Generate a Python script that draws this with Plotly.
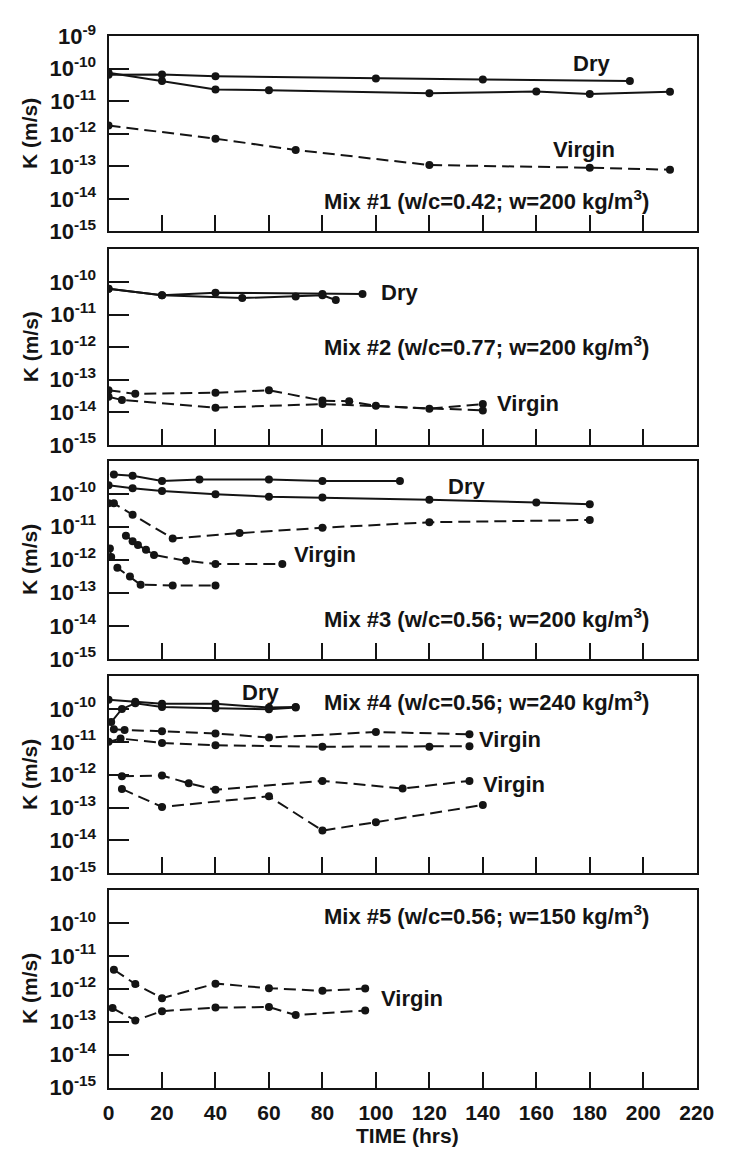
import plotly.graph_objects as go

# ---------------- data: hydraulic conductivity K (m/s) vs. time (hrs) ----------------
# Mix #1 (w/c=0.42; w=200 kg/m3)
m1_dry_a_t = [0, 20, 40, 100, 140, 195]
m1_dry_a_k = [6.5e-11, 6.6e-11, 5.9e-11, 5.0e-11, 4.7e-11, 4.2e-11]
m1_dry_b_t = [0, 20, 40, 60, 120, 160, 180, 210]
m1_dry_b_k = [7.5e-11, 4.2e-11, 2.3e-11, 2.2e-11, 1.75e-11, 2.0e-11, 1.66e-11, 1.95e-11]
m1_vir_t = [0, 40, 70, 120, 180, 210]
m1_vir_k = [1.8e-12, 7.1e-13, 3.2e-13, 1.1e-13, 9.1e-14, 7.9e-14]

# Mix #2 (w/c=0.77; w=200 kg/m3)
m2_dry_a_t = [0, 20, 40, 80, 95]
m2_dry_a_k = [6.2e-11, 3.9e-11, 4.7e-11, 4.3e-11, 4.3e-11]
m2_dry_b_t = [0, 20, 50, 70, 80, 85]
m2_dry_b_k = [6.2e-11, 3.9e-11, 3.2e-11, 3.6e-11, 3.9e-11, 2.8e-11]
m2_vir_a_t = [0, 10, 40, 60, 80, 90, 100, 120, 140]
m2_vir_a_k = [4.8e-14, 3.7e-14, 4.0e-14, 4.8e-14, 2.3e-14, 2.2e-14, 1.6e-14, 1.3e-14, 1.8e-14]
m2_vir_b_t = [0, 5, 40, 80, 140]
m2_vir_b_k = [3.0e-14, 2.4e-14, 1.4e-14, 1.8e-14, 1.15e-14]

# Mix #3 (w/c=0.56; w=200 kg/m3)
m3_dry_a_t = [2, 9, 20, 34, 60, 80, 109]
m3_dry_a_k = [3.8e-10, 3.5e-10, 2.4e-10, 2.7e-10, 2.7e-10, 2.4e-10, 2.4e-10]
m3_dry_b_t = [0, 9, 20, 40, 60, 80, 120, 160, 180]
m3_dry_b_k = [1.8e-10, 1.45e-10, 1.2e-10, 9.6e-11, 8.1e-11, 7.6e-11, 6.5e-11, 5.4e-11, 4.8e-11]
m3_vir_a_t = [0, 2, 9, 24, 49, 80, 120, 180]
m3_vir_a_k = [5.1e-11, 5.1e-11, 2.3e-11, 4.4e-12, 6.4e-12, 9.3e-12, 1.36e-11, 1.6e-11]
m3_vir_b_t = [6.5, 9, 11, 14, 17, 29, 40, 65]
m3_vir_b_k = [5.3e-12, 3.6e-12, 2.8e-12, 2.0e-12, 1.4e-12, 9.3e-13, 7.4e-13, 7.4e-13]
m3_vir_c_t = [0.5, 1, 3.3, 8, 12, 24, 40]
m3_vir_c_k = [2.2e-12, 1.2e-12, 5.7e-13, 3.1e-13, 1.75e-13, 1.66e-13, 1.66e-13]

# Mix #4 (w/c=0.56; w=240 kg/m3)
m4_dry_a_t = [0, 10, 20, 40, 60, 70]
m4_dry_a_k = [1.9e-10, 1.65e-10, 1.45e-10, 1.45e-10, 1.1e-10, 1.15e-10]
m4_dry_b_t = [1, 5, 10, 20, 40, 60, 70]
m4_dry_b_k = [4.0e-11, 1.0e-10, 1.5e-10, 1.15e-10, 1.05e-10, 9.8e-11, 1.1e-10]
m4_vir_a_t = [2, 6, 20, 40, 60, 100, 135]
m4_vir_a_k = [2.4e-11, 2.3e-11, 2.1e-11, 1.8e-11, 1.35e-11, 2.0e-11, 1.7e-11]
m4_vir_b_t = [0, 4.5, 20, 40, 80, 120, 135]
m4_vir_b_k = [1.0e-11, 1.26e-11, 9.3e-12, 7.9e-12, 7.1e-12, 7.1e-12, 7.4e-12]
m4_vir_c_t = [5, 20, 30, 40, 80, 110, 135]
m4_vir_c_k = [9.0e-13, 9.5e-13, 5.5e-13, 3.5e-13, 6.5e-13, 3.8e-13, 6.5e-13]
m4_vir_d_t = [5, 20, 60, 80, 100, 140]
m4_vir_d_k = [3.7e-13, 1.05e-13, 2.2e-13, 2.0e-14, 3.6e-14, 1.2e-13]

# Mix #5 (w/c=0.56; w=150 kg/m3)
m5_vir_a_t = [2, 10, 20, 40, 60, 80, 96]
m5_vir_a_k = [3.8e-12, 1.4e-12, 5.2e-13, 1.44e-12, 1.05e-12, 8.7e-13, 1.02e-12]
m5_vir_b_t = [1.5, 10, 20, 40, 60, 70, 96]
m5_vir_b_k = [2.6e-13, 1.1e-13, 2.1e-13, 2.7e-13, 2.8e-13, 1.6e-13, 2.2e-13]

mix_titles = [
    "Mix #1 (w/c=0.42; w=200 kg/m<sup>3</sup>)",
    "Mix #2 (w/c=0.77; w=200 kg/m<sup>3</sup>)",
    "Mix #3 (w/c=0.56; w=200 kg/m<sup>3</sup>)",
    "Mix #4 (w/c=0.56; w=240 kg/m<sup>3</sup>)",
    "Mix #5 (w/c=0.56; w=150 kg/m<sup>3</sup>)",
]

time_ticks = list(range(0, 221, 20))
k_exponents = [-9, -10, -11, -12, -13, -14, -15]

# (series list per panel): (t, k, dashed?)
panels = [
    [(m1_dry_a_t, m1_dry_a_k, False), (m1_dry_b_t, m1_dry_b_k, False), (m1_vir_t, m1_vir_k, True)],
    [(m2_dry_a_t, m2_dry_a_k, False), (m2_dry_b_t, m2_dry_b_k, False),
     (m2_vir_a_t, m2_vir_a_k, True), (m2_vir_b_t, m2_vir_b_k, True)],
    [(m3_dry_a_t, m3_dry_a_k, False), (m3_dry_b_t, m3_dry_b_k, False),
     (m3_vir_a_t, m3_vir_a_k, True), (m3_vir_b_t, m3_vir_b_k, True), (m3_vir_c_t, m3_vir_c_k, True)],
    [(m4_dry_a_t, m4_dry_a_k, False), (m4_dry_b_t, m4_dry_b_k, False),
     (m4_vir_a_t, m4_vir_a_k, True), (m4_vir_b_t, m4_vir_b_k, True),
     (m4_vir_c_t, m4_vir_c_k, True), (m4_vir_d_t, m4_vir_d_k, True)],
    [(m5_vir_a_t, m5_vir_a_k, True), (m5_vir_b_t, m5_vir_b_k, True)],
]

# series labels: (panel index, text, x, log10 y)
series_labels = [
    (0, "Dry", 180.5, -9.83), (0, "Virgin", 178, -12.47),
    (1, "Dry", 109, -10.33), (1, "Virgin", 157, -13.74),
    (2, "Dry", 134, -9.79), (2, "Virgin", 81, -11.83),
    (3, "Dry", 57, -9.49), (3, "Virgin", 150, -10.93), (3, "Virgin", 151.5, -12.29),
    (4, "Virgin", 113.5, -12.28),
]
mix_title_pos = [(141.5, -14.02), (141.5, -11.96), (141.5, -13.77), (141.5, -9.76), (141.5, -9.76)]

# ---------------- layout geometry ----------------
W, H = 736, 1162
x_dom = [106 / W, 714 / W]
panel_px = [(20.7, 221), (239.3, 440), (456, 659.3), (677, 879.3), (896.5, 1099)]
y_doms = [[1 - b / H, 1 - t / H] for t, b in panel_px]

FONT = "Liberation Sans"
INK = "#141414"


def bold(s):
    return "<b>" + s + "</b>"


fig = go.Figure()
layout = dict(
    width=W, height=H, margin=dict(l=0, r=0, t=0, b=0),
    paper_bgcolor="white", plot_bgcolor="white", showlegend=False,
    font=dict(family=FONT, color=INK, size=20),
)
annotations = []

for i, series in enumerate(panels):
    n = "" if i == 0 else str(i + 1)
    for t, k, dashed in series:
        fig.add_trace(go.Scatter(
            x=t, y=k, xaxis="x" + n, yaxis="y" + n, mode="lines+markers",
            line=dict(color=INK, width=2, dash="12px,6px" if dashed else "solid"),
            marker=dict(color=INK, size=8, symbol="circle"),
        ))
    exps = k_exponents if i == 0 else k_exponents[1:]
    layout["xaxis" + n] = dict(
        domain=x_dom, anchor="y" + n, range=[0, 220], fixedrange=True,
        tickvals=time_ticks, ticktext=[bold(str(v)) for v in time_ticks],
        ticks="inside", ticklen=16, tickwidth=2, tickcolor=INK,
        showticklabels=(i == 4), tickfont=dict(size=21, family=FONT, color=INK),
        showline=True, linewidth=2, linecolor=INK, mirror=True, showgrid=False, zeroline=False,
        ticklabelstandoff=5,
    )
    layout["yaxis" + n] = dict(
        domain=y_doms[i], anchor="x" + n, type="log", range=[-15, -9], fixedrange=True,
        tickvals=[10.0 ** e for e in exps],
        ticktext=[bold("10<sup>%d</sup>" % e) for e in exps],
        ticks="inside", ticklen=20, tickwidth=2, tickcolor=INK,
        tickfont=dict(size=22, family=FONT, color=INK), ticklabelstandoff=6,
        showline=True, linewidth=2, linecolor=INK, mirror=True, showgrid=False, zeroline=False,
    )
    annotations.append(dict(
        text=bold("K (m/s)"), xref="paper", yref="paper", x=25 / W, y=sum(y_doms[i]) / 2,
        textangle=-90, showarrow=False, font=dict(size=21, family=FONT, color=INK),
        xanchor="center", yanchor="middle",
    ))
    mx, my = mix_title_pos[i]
    annotations.append(dict(
        text=bold(mix_titles[i]), xref="x" + n, yref="y" + n, x=mx, y=my, showarrow=False,
        xanchor="center", yanchor="middle", font=dict(size=22, family=FONT, color=INK),
    ))

for p, txt, lx, ly in series_labels:
    n = "" if p == 0 else str(p + 1)
    annotations.append(dict(
        text=bold(txt), xref="x" + n, yref="y" + n, x=lx, y=ly, showarrow=False,
        xanchor="center", yanchor="middle", font=dict(size=22, family=FONT, color=INK),
    ))

annotations.append(dict(
    text=bold("TIME (hrs)"), xref="paper", yref="paper", x=415 / W, y=1 - 1148 / H,
    showarrow=False, xanchor="center", yanchor="middle", font=dict(size=21, family=FONT, color=INK),
))

layout["annotations"] = annotations
fig.update_layout(**layout)
fig.write_html("out.html")
